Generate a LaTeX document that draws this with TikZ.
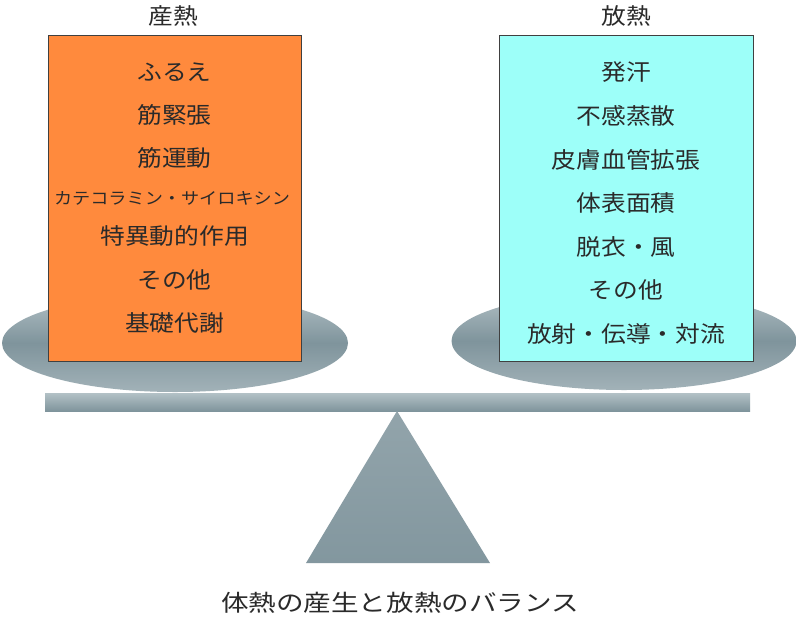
\documentclass[tikz,border=0pt]{standalone}
\usepackage{fontspec}
\newfontfamily\jp[FakeStretch=1.1]{Noto Sans CJK JP}
\usetikzlibrary{shapes.geometric}
\definecolor{orangebox}{HTML}{FF8A3D}
\definecolor{cyanbox}{HTML}{9DFFF9}
\definecolor{txt}{HTML}{2A2A2A}
\definecolor{gtop}{HTML}{B3C1C6}
\definecolor{gmid}{HTML}{7F949C}
\definecolor{gbot}{HTML}{A2B2B8}
\tikzset{
  plate/.style={ellipse, inner sep=0pt, top color=gtop, bottom color=gbot, middle color=gmid, draw=none},
  box/.style={rectangle, inner sep=0pt, draw=black!75, line width=0.9pt},
  item/.style={font=\jp\fontsize{22.5}{22.5}\selectfont, text=txt, inner sep=0pt, anchor=center},
  small/.style={font=\jp\fontsize{16.5}{16.5}\selectfont, text=txt, inner sep=0pt, anchor=center},
  head/.style={font=\jp\fontsize{22.5}{22.5}\selectfont, text=txt, inner sep=0pt},
}
\begin{document}
\begin{tikzpicture}[x=1pt,y=-1pt]
\useasboundingbox (0,0) rectangle (800,622);
\fill[white] (0,0) rectangle (800,622);
% beam and fulcrum
\shade[top color=gtop, bottom color=gmid] (45,393) rectangle (750,411);
\coordinate (apex) at (397,411);
\coordinate (bl) at (306,563);
\coordinate (br) at (490,563);
\shade[top color=gmid!85!white, bottom color=gmid!90!gbot] (apex) -- (br) -- (bl) -- cycle;
% plates
\node[plate, minimum width=346pt, minimum height=98pt] (lplate) at (175,343) {};
\node[plate, minimum width=345pt, minimum height=98pt] (rplate) at (624,341) {};
% boxes
\node[box, fill=orangebox, minimum width=253pt, minimum height=326pt] (lbox) at (174.5,198) {};
\node[box, fill=cyanbox, minimum width=254pt, minimum height=326pt] (rbox) at (626,198) {};
% headings
\node[head] (lhead) at (173,16) {産熱};
\node[head] (rhead) at (626,16) {放熱};
% left items
\node[item] (l1) at (174.5,72) {ふるえ};
\node[item] (l2) at (174.5,115) {筋緊張};
\node[item] (l3) at (174.5,158) {筋運動};
\node[small] (l4) at (172,198) {カテコラミン・サイロキシン};
\node[item] (l5) at (174.5,236) {特異動的作用};
\node[item] (l6) at (174.5,280) {その他};
\node[item] (l7) at (174.5,323) {基礎代謝};
% right items
\node[item] (r1) at (626,72) {発汗};
\node[item] (r2) at (626,116) {不感蒸散};
\node[item] (r3) at (626,160) {皮膚血管拡張};
\node[item] (r4) at (626,203) {体表面積};
\node[item] (r5) at (626,247) {脱衣・風};
\node[item] (r6) at (626,290) {その他};
\node[item] (r7) at (626,334) {放射・伝導・対流};
% caption
\node[font=\jp\fontsize{23}{23}\selectfont, text=txt, inner sep=0pt] (cap) at (400,603) {\scalebox{1.09}[1]{体熱の産生と放熱のバランス}};
\end{tikzpicture}
\end{document}
